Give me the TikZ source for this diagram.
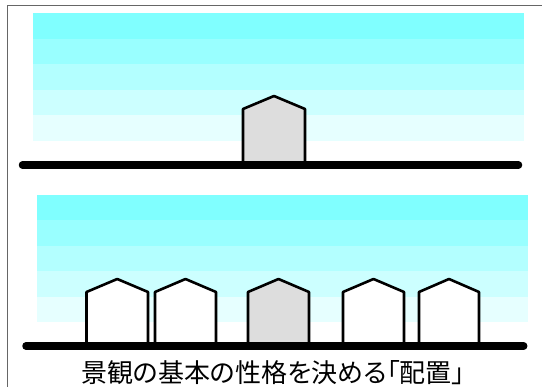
\documentclass[tikz,border=0pt]{standalone}
\usepackage{fontspec}
\newfontfamily\jpfont[RawFeature=+palt]{Noto Sans CJK JP}
\definecolor{skyA}{HTML}{80FFFF}
\definecolor{skyB}{HTML}{99FFFF}
\definecolor{skyC}{HTML}{B3FFFF}
\definecolor{skyD}{HTML}{CCFFFF}
\definecolor{skyE}{HTML}{E6FFFF}
\definecolor{framegray}{HTML}{666666}
\definecolor{focusgray}{HTML}{DDDDDD}
\tikzset{
  road/.style={line width=7.5pt, line cap=round, black},
  wall/.style={line width=2.6pt, line join=round, black},
  frameline/.style={line width=1pt, framegray},
  caption/.style={font=\jpfont\fontsize{26}{30}\selectfont, inner sep=0pt}
}
% a house: left x, right x, eave y, ridge y, ground y, fill colour
\newcommand\bldg[6]{%
  \draw[wall, fill=#6] (#1,#5) -- (#1,#3) -- ({(#1+#2)/2},#4) -- (#2,#3) -- (#2,#5);}
% five sky bands from top y with step h, between left and right x
\newcommand\skybands[4]{%
  \foreach \c [count=\i from 0] in {skyA,skyB,skyC,skyD,skyE}
    \fill[\c] (#1,{#3+\i*#4}) rectangle (#2,{#3+(\i+1)*#4});}
\begin{document}
\begin{tikzpicture}[x=1pt,y=-1pt]
  \useasboundingbox (0,0) rectangle (542,387);
  \fill[white] (0,0) rectangle (542,387);
  % frame edges
  \draw[frameline] (7.3,387) -- (7.3,5.2) -- (542,5.2);

  % upper scene: a single building
  \skybands{33}{524}{13}{25.6}
  \bldg{243}{305}{109}{96}{165}{focusgray}
  \draw[road] (22.5,165) -- (518.5,165);

  % lower scene: the same building in a row
  \skybands{37}{528}{195}{25.4}
  \bldg{86.5}{148}{292}{279}{346}{white}
  \bldg{155}{216}{292}{279}{346}{white}
  \bldg{248}{309}{292}{279}{346}{focusgray}
  \bldg{343}{404}{292}{279}{346}{white}
  \bldg{419}{479}{292}{279}{346}{white}
  \draw[road] (26,346) -- (523.7,346);

  \node[caption] (title) at (273,372.5) {景観の基本の性格を決める「配置」};
\end{tikzpicture}
\end{document}
